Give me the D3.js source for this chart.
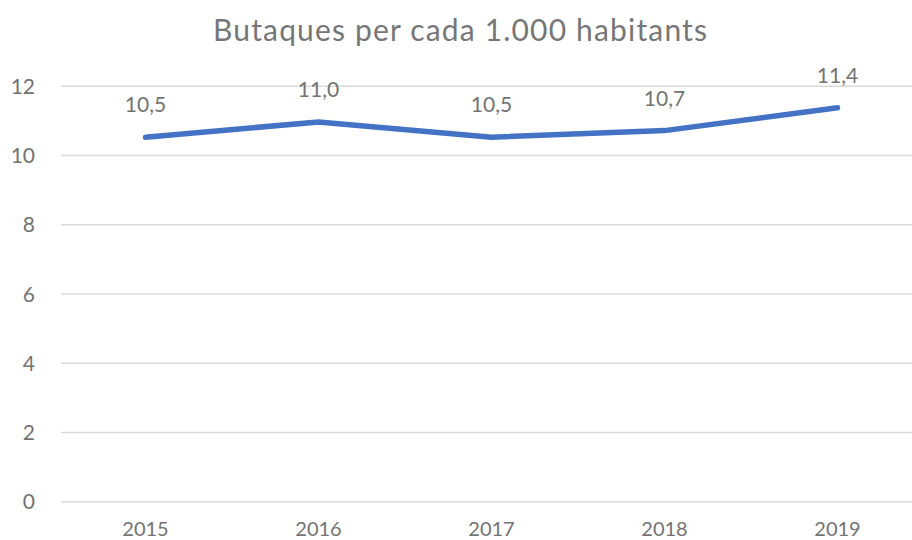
<!DOCTYPE html>
<html><head><meta charset="utf-8">
<script src="https://cdn.jsdelivr.net/npm/d3@7"></script>
<style>body{margin:0;background:#fff}text{font-family:Lato,"Open Sans",sans-serif}</style>
</head><body><svg id="c" width="912" height="540"></svg>
<script>
const title = "Butaques per cada 1.000 habitants";
const years = ["2015","2016","2017","2018","2019"];
const values = [10.53, 10.97, 10.53, 10.72, 11.38];
const labels = ["10,5","11,0","10,5","10,7","11,4"];
const yTicks = [0,2,4,6,8,10,12];

(function(){
const svg = d3.select("#c");
const mL = 59, mR = 924, mT = 86.3, mB = 501.7;
const x = d3.scalePoint().domain(years).range([mL, mR]).padding(0.5);
const y = d3.scaleLinear().domain([0,12]).range([mB, mT]);

svg.append("g").selectAll("line").data(yTicks).join("line")
  .attr("x1", 61).attr("x2", 912)
  .attr("y1", d=>y(d)).attr("y2", d=>y(d))
  .attr("stroke","#d9d9d9").attr("stroke-width",1.5);

svg.append("g").selectAll("text").data(yTicks).join("text")
  .attr("x", 35).attr("y", d=>y(d)+7.5)
  .attr("text-anchor","end").attr("font-size",21).attr("fill","#737373")
  .text(d=>d);

svg.append("g").selectAll("text").data(years).join("text")
  .attr("x", d=>x(d)).attr("y", 536)
  .attr("text-anchor","middle").attr("font-size",20).attr("fill","#737373")
  .text(d=>d);

const line = d3.line().x((d,i)=>x(years[i])).y(d=>y(d));
svg.append("path").datum(values).attr("d", line)
  .attr("fill","none").attr("stroke","#4472C4").attr("stroke-width",5.5)
  .attr("stroke-linecap","round").attr("stroke-linejoin","round");

svg.append("g").selectAll("text").data(values).join("text")
  .attr("x", (d,i)=>x(years[i])).attr("y", d=>y(d)-25)
  .attr("text-anchor","middle").attr("font-size",21).attr("fill","#737373")
  .text((d,i)=>labels[i]);

svg.append("text").attr("x", 460).attr("y", 41)
  .attr("text-anchor","middle").attr("font-size",30).attr("fill","#767676")
  .attr("textLength", 494).attr("lengthAdjust","spacing")
  .text(title);
})();
</script></body></html>
